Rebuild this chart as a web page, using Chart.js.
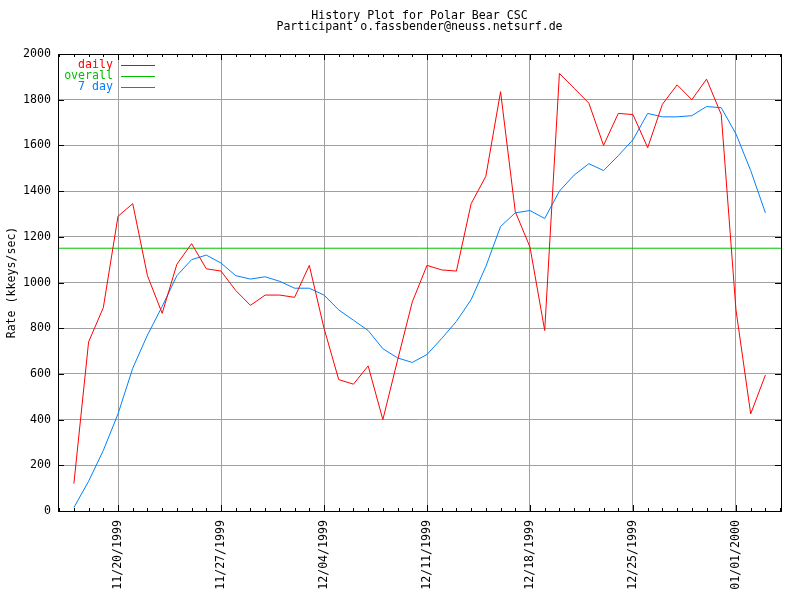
<!DOCTYPE html>
<html>
<head>
<meta charset="utf-8">
<script src="https://cdn.jsdelivr.net/npm/chart.js"></script>
<style>
  html, body { margin: 0; padding: 0; background: #fff; }
</style>
</head>
<body>
<canvas id="grafico" width="800" height="600"></canvas>
<script>
const tituloLinhas = ['History Plot for Polar Bear CSC', 'Participant o.fassbender@neuss.netsurf.de'];

// dias contados a partir de 11/20/1999; a serie comeca em 11/17/1999
const primeiroDia = -3;
const diario = [
    120, 740, 890, 1290, 1345, 1030, 865, 1080, 1170, 1060, 1050, 965,
    900, 945, 945, 935, 1075, 800, 575, 555, 635, 400, 660, 915,
    1075, 1055, 1050, 1345, 1465, 1835, 1310, 1155, 790, 1915, 1850, 1785,
    1600, 1740, 1735, 1590, 1780, 1865, 1800, 1890, 1735, 880, 425, 595
];
const seteDias = [
    15, 130, 265, 425, 625, 770, 895, 1030, 1100, 1120, 1085, 1030,
    1015, 1025, 1005, 975, 975, 945, 880, 835, 790, 710, 670, 650,
    685, 755, 830, 925, 1070, 1245, 1305, 1315, 1280, 1400, 1470, 1520,
    1490, 1555, 1625, 1740, 1725, 1725, 1730, 1770, 1765, 1650, 1490, 1305
];
const geral = 1150;

const diasTicks = [0, 7, 14, 21, 28, 35, 42];
const rotulosTicks = ['11/20/1999', '11/27/1999', '12/04/1999', '12/11/1999', '12/18/1999', '12/25/1999', '01/01/2000'];

const xMin = -4.08;
const xMax = 45.06;

const fonte = 'DejaVu Sans Mono';
const tamanho = 11.6;
const vermelho = '#ff0000';
const verde = '#00c000';
const azul = '#0080ff';

const pontos = (serie) => serie.map((v, i) => ({ x: primeiroDia + i, y: v }));

// moldura, tiques, legenda e titulo no estilo do gnuplot
const molduraPlugin = {
    id: 'moldura',
    afterDraw(chart) {
        const { ctx, chartArea: a, scales: { x, y } } = chart;
        ctx.save();
        ctx.strokeStyle = '#000';
        ctx.lineWidth = 1;
        ctx.beginPath();
        for (let d = Math.ceil(x.min); d <= x.max; d++) {
            const px = Math.round(x.getPixelForValue(d)) + 0.5;
            const len = diasTicks.includes(d) ? 6 : 3;
            ctx.moveTo(px, a.bottom); ctx.lineTo(px, a.bottom - len);
            ctx.moveTo(px, a.top); ctx.lineTo(px, a.top + len);
        }
        y.ticks.forEach(t => {
            const py = Math.round(y.getPixelForValue(t.value)) + 0.5;
            ctx.moveTo(a.left, py); ctx.lineTo(a.left + 6, py);
            ctx.moveTo(a.right, py); ctx.lineTo(a.right - 6, py);
        });
        ctx.stroke();
        ctx.strokeRect(Math.round(a.left) + 0.5, Math.round(a.top) + 0.5, Math.round(a.width), Math.round(a.height));

        ctx.font = tamanho + 'px "' + fonte + '"';
        ctx.textBaseline = 'middle';

        // titulo
        ctx.fillStyle = '#000';
        ctx.textAlign = 'center';
        const cx = (a.left + a.right) / 2;
        ctx.fillText(tituloLinhas[0], cx, 15.5);
        ctx.fillText(tituloLinhas[1], cx, 27);

        // legenda
        const itens = chart.data.datasets;
        ctx.textAlign = 'right';
        itens.forEach((ds, i) => {
            const ly = 65 + i * 11;
            ctx.fillStyle = ds.borderColor;
            ctx.fillText(ds.label, 113, ly);
            ctx.strokeStyle = ds.borderColor;
            ctx.beginPath();
            ctx.moveTo(121, ly + 0.5);
            ctx.lineTo(155, ly + 0.5);
            ctx.stroke();
        });
        ctx.restore();
    }
};

const contexto = document.getElementById('grafico').getContext('2d');

const grafico = new Chart(contexto, {
    type: 'line',
    data: {
        datasets: [{
            label: 'daily',
            data: pontos(diario),
            borderColor: vermelho,
            borderWidth: 1,
            pointRadius: 0,
            tension: 0,
        }, {
            label: 'overall',
            data: [{ x: xMin, y: geral }, { x: xMax, y: geral }],
            borderColor: verde,
            borderWidth: 1,
            pointRadius: 0,
        }, {
            label: '7 day',
            data: pontos(seteDias),
            borderColor: azul,
            borderWidth: 1,
            pointRadius: 0,
            tension: 0,
        }],
    },
    options: {
        responsive: false,
        animation: false,
        devicePixelRatio: 1,
        layout: { padding: { left: 0, right: 19, top: 54, bottom: 0 } },
        plugins: {
            legend: { display: false },
            tooltip: { enabled: false },
        },
        scales: {
            x: {
                type: 'linear',
                min: xMin,
                max: xMax,
                afterBuildTicks: (s) => { s.ticks = diasTicks.map(v => ({ value: v })); },
                afterFit: (s) => { s.height = 89; },
                grid: { color: '#a0a0a0', drawTicks: false },
                border: { display: false },
                ticks: {
                    autoSkip: false,
                    minRotation: 90,
                    maxRotation: 90,
                    padding: 9,
                    color: '#000',
                    font: { family: fonte, size: tamanho },
                    callback: (v, i) => rotulosTicks[i],
                },
            },
            y: {
                min: 0,
                max: 2000,
                afterFit: (s) => { s.width = 58; },
                grid: { color: '#a0a0a0', drawTicks: false },
                border: { display: false },
                ticks: {
                    stepSize: 200,
                    padding: 7,
                    color: '#000',
                    font: { family: fonte, size: tamanho },
                    callback: (v) => String(v),
                },
                title: {
                    display: true,
                    text: 'Rate (kkeys/sec)',
                    color: '#000',
                    padding: { top: 5, bottom: 0 },
                    font: { family: fonte, size: tamanho },
                },
            },
        },
    },
    plugins: [molduraPlugin],
});
</script>
</body>
</html>
